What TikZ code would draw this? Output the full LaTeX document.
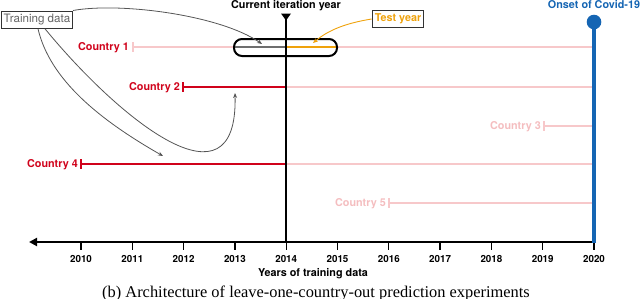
\documentclass[tikz,border=0pt]{standalone}
\usepackage{fontspec}
\setmainfont{TeX Gyre Heros}
\newfontfamily\capfont{Liberation Serif}
\usetikzlibrary{arrows.meta}
\definecolor{cred}{HTML}{D0021B}
\definecolor{cpink}{HTML}{F7C8CA}
\definecolor{cpinktxt}{HTML}{F4BDBF}
\definecolor{cblue}{HTML}{1565B3}
\definecolor{corange}{HTML}{EFA20C}
\definecolor{carrow}{HTML}{555555}
\definecolor{cbox}{HTML}{333333}
\definecolor{ctdtext}{HTML}{636363}
\definecolor{cseg}{HTML}{6E6E6E}
\begin{document}
\begin{tikzpicture}[x=1bp,y=-1bp,
  lbl/.style={font=\fontsize{10.8bp}{12bp}\selectfont\bfseries, inner sep=0pt},
  yr/.style={font=\fontsize{9.8bp}{11bp}\selectfont\bfseries, inner sep=0pt, anchor=base},
  redbar/.style={cred, line width=2.2bp},
  pinkbar/.style={cpink, line width=1.8bp},
  callout/.style={carrow, line width=0.8bp, -{Stealth[length=5bp,width=4bp]}},
  tagbox/.style={draw=cbox, line width=1.1bp, inner xsep=2.5bp, inner ysep=0bp, minimum height=17.5bp}
]
\useasboundingbox (0,0) rectangle (640,298);
\clip (0,0) rectangle (640,298);

% country bars (pink background lines)
\draw[pinkbar] (133,42) -- (133,52);
\draw[pinkbar] (133,47) -- (594,47);
\draw[pinkbar] (286,87) -- (594,87);
\draw[pinkbar] (544,121) -- (544,131);
\draw[pinkbar] (544,126) -- (594,126);
\draw[pinkbar] (286,164) -- (594,164);
\draw[pinkbar] (389,198) -- (389,208);
\draw[pinkbar] (389,203) -- (594,203);

% red training bars
\draw[redbar] (183,82) -- (183,92);
\draw[redbar] (183,87) -- (286,87);
\draw[redbar] (81,159) -- (81,169);
\draw[redbar] (81,164) -- (286,164);

% window segments
\draw[cseg, line width=2bp] (235,47) -- (286,47);
\draw[corange, line width=2.6bp] (286,47) -- (337,47);

% country labels
\node[lbl, text=cred, anchor=base east] (c1) at (129,50.8) {Country 1};
\node[lbl, text=cred, anchor=base east] (c2) at (180,90.8) {Country 2};
\node[lbl, text=cpinktxt, anchor=base east] (c3) at (541,129.8) {Country 3};
\node[lbl, text=cred, anchor=base east] (c4) at (78,167.8) {Country 4};
\node[lbl, text=cpinktxt, anchor=base east] (c5) at (386,206.8) {Country 5};

% axis
\draw[line width=2bp, -{Triangle[length=8bp,width=8bp]}] (596,242) -- (29,242);
\foreach \i in {0,...,10}{
  \pgfmathsetmacro{\xx}{81+51.3*\i}
  \pgfmathtruncatemacro{\yy}{2010+\i}
  \draw[line width=1.3bp] (\xx,242) -- (\xx,250);
  \node[yr] (y\yy) at (\xx,262.8) {\yy};
}
\node[lbl, anchor=base] (axt) at (313,276.5) {Years of training data};

% current iteration year
\draw[line width=2.6bp] (286,16) -- (286,242);
\fill (281,13.5) -- (291,13.5) -- (286,20.5) -- cycle;
\node[lbl, anchor=base] (cur) at (286,8.8) {Current iteration year};

% onset of covid
\draw[cblue, line width=4bp] (594,22) -- (594,243);
\fill[cblue] (594,22) circle (7.3);
\node[lbl, text=cblue, anchor=base] (cov) at (594,8.8) {Onset of Covid-19};

% iteration window
\node[draw, line width=2bp, rounded corners=8bp, minimum width=103bp, minimum height=17bp, inner sep=0pt] (win) at (285.5,47.5) {};

% tags
\node[tagbox, text=ctdtext, font=\fontsize{11.6bp}{13bp}\selectfont] (td) at (37,20) {Training data};
\node[tagbox, text=corange, font=\fontsize{10.8bp}{12bp}\selectfont\bfseries] (ty) at (398,19) {Test year};

% arrow targets
\coordinate (t1) at (262,44);
\coordinate (t2) at (235,93);
\coordinate (t4) at (163,156);
\coordinate (tt) at (313,43);
\coordinate (s1) at (73,10.5);
\coordinate (s2) at (45,28.8);
\coordinate (s4) at (38,28.8);

\draw[callout] (s1) .. controls (120,2) and (220,15) .. (t1);
\draw[callout] (s2) .. controls (120,120) and (238,215) .. (t2);
\draw[callout] (s4) .. controls (50,80) and (100,120) .. (t4);
\draw[corange, line width=0.9bp, -{Stealth[length=5bp,width=4bp]}] (ty.west) .. controls (340,24) and (325,33) .. (tt);

% caption
\node[font={\capfont\fontsize{16.4bp}{18bp}\selectfont}, anchor=base, inner sep=0pt] (cap) at (316,297) {(b) Architecture of leave-one-country-out prediction experiments};
\end{tikzpicture}
\end{document}
